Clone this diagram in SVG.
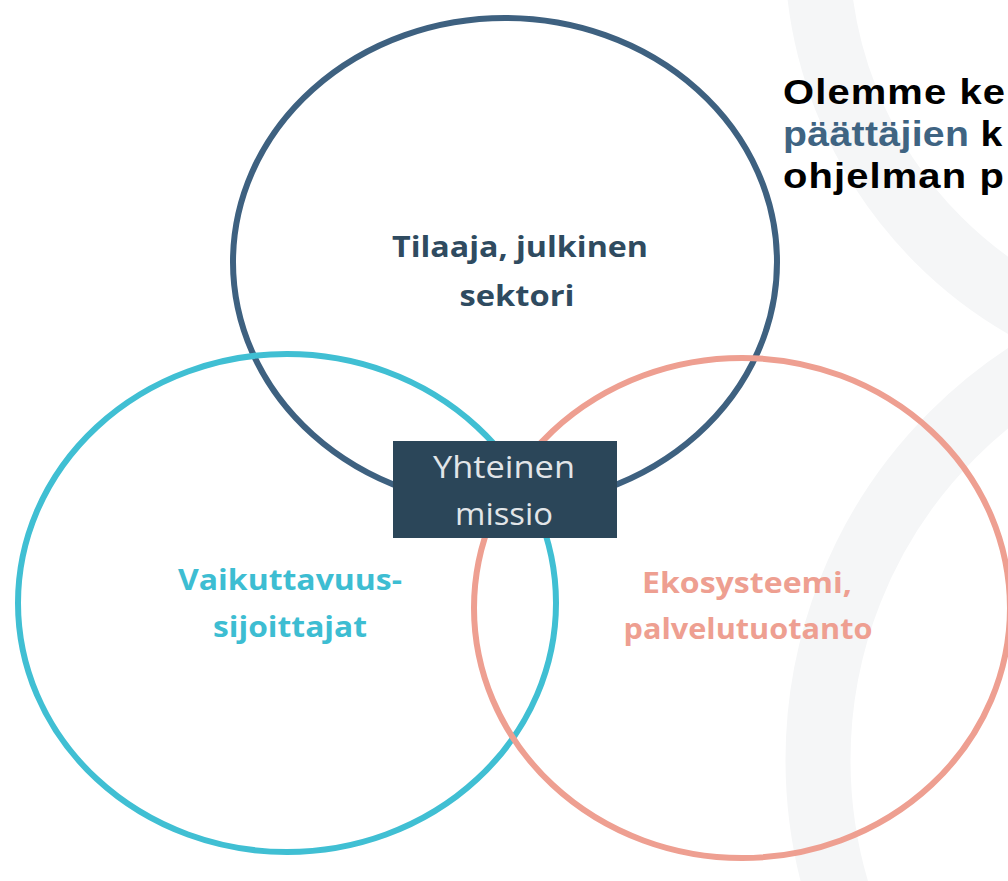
<svg xmlns="http://www.w3.org/2000/svg" width="1008" height="881" viewBox="0 0 1008 881">
<style>
.band{fill:none;stroke:#f5f6f7;stroke-width:65}
.ring{fill:none;stroke-width:6}
.lbl{font-family:"Open Sans","Noto Sans",sans-serif;font-weight:700;font-size:29px;text-anchor:middle}
.box{font-family:"Open Sans","Noto Sans",sans-serif;font-size:31px;fill:#e2e5e8;text-anchor:middle}
.hd{font-family:"Liberation Sans",Arial,sans-serif;font-weight:700;font-size:35px;letter-spacing:1px}
</style>
<rect width="1008" height="881" fill="#ffffff"/>
<g id="background">
<circle class="band" cx="1231" cy="-53" r="414"/>
<circle class="band" cx="1278" cy="760" r="460"/>
</g>
<g id="heading">
<text class="hd" transform="translate(783,104) scale(1.14,1)" fill="#000000">Olemme ke</text>
<text class="hd" transform="translate(783,146) scale(1.12,1)" style="letter-spacing:0.3px"><tspan fill="#3f6482">päättäjien</tspan><tspan fill="#000000"> k</tspan></text>
<text class="hd" transform="translate(783,188) scale(1.14,1)" fill="#000000">ohjelman p</text>
</g>
<g id="node-tilaaja">
<ellipse class="ring" cx="505" cy="262" rx="272" ry="244" stroke="#3e6180"/>
<text class="lbl" fill="#2f4b60"><tspan x="520" y="257" textLength="256" lengthAdjust="spacingAndGlyphs">Tilaaja, julkinen</tspan><tspan x="517" y="306" textLength="115" lengthAdjust="spacingAndGlyphs">sektori</tspan></text>
</g>
<g id="node-vaikuttavuus">
<ellipse class="ring" cx="287" cy="603" rx="269" ry="249" stroke="#40bfd3"/>
<text class="lbl" fill="#3dbdd2"><tspan x="290" y="590" textLength="224" lengthAdjust="spacingAndGlyphs">Vaikuttavuus-</tspan><tspan x="290" y="637" textLength="154" lengthAdjust="spacingAndGlyphs">sijoittajat</tspan></text>
</g>
<g id="node-ekosysteemi">
<ellipse class="ring" cx="742" cy="608" rx="268" ry="250" stroke="#ee9f91"/>
<text class="lbl" fill="#ee9f91"><tspan x="747" y="593" textLength="210" lengthAdjust="spacingAndGlyphs">Ekosysteemi,</tspan><tspan x="748" y="639" textLength="249" lengthAdjust="spacingAndGlyphs">palvelutuotanto</tspan></text>
</g>
<g id="node-missio">
<rect x="393" y="441" width="224" height="97" fill="#2b4659"/>
<text class="box"><tspan x="504" y="478" textLength="142" lengthAdjust="spacingAndGlyphs">Yhteinen</tspan><tspan x="504" y="525" textLength="98" lengthAdjust="spacingAndGlyphs">missio</tspan></text>
</g>
<g id="connectors"/>
</svg>
